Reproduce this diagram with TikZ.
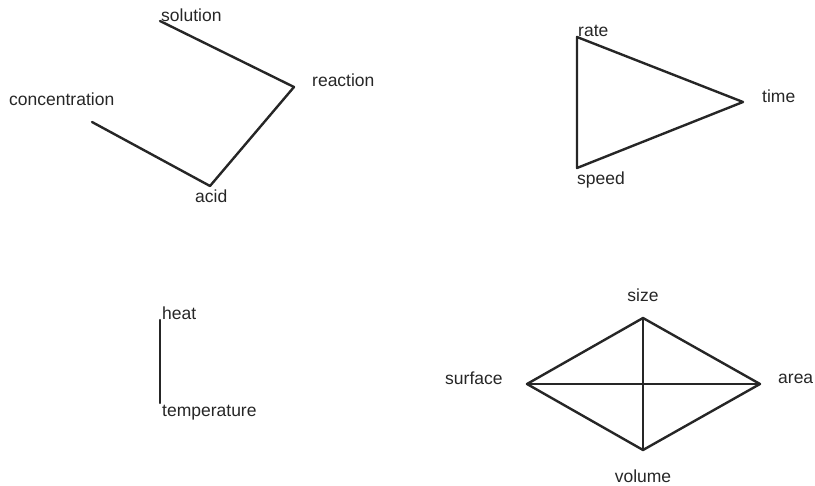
\documentclass[tikz,border=0pt]{standalone}
\usepackage{fontspec}
\setmainfont{Liberation Sans}
\begin{document}
\begin{tikzpicture}[x=1pt,y=-1pt,
  lbl/.style={inner sep=0pt,anchor=base west,font=\fontsize{17.5}{20}\selectfont,text=black!85},
  lblc/.style={inner sep=0pt,anchor=base,font=\fontsize{17.5}{20}\selectfont,text=black!85},
  edge/.style={line width=2.4pt,draw=black!85,line cap=round,line join=round}]
\useasboundingbox (0,0) rectangle (815,486);
% group 1
\coordinate (solution) at (160,21);
\coordinate (reaction) at (294,87);
\coordinate (acid) at (210,186);
\coordinate (concentration) at (92,122);
\node[lbl] (solutionL) at (161,22) {solution};
\node[lbl] (reactionL) at (312,87) {reaction};
\node[lbl] (acidL) at (195,203) {acid};
\node[lbl] (concentrationL) at (9,106) {concentration};
\draw[edge] (solution) -- (reaction) -- (acid) -- (concentration);
% group 2
\coordinate (rate) at (577,37);
\coordinate (time) at (743,102);
\coordinate (speed) at (577,168);
\node[lbl] (rateL) at (578,37) {rate};
\node[lbl] (timeL) at (762,103) {time};
\node[lbl] (speedL) at (577,185) {speed};
\draw[edge] (rate) -- (time) -- (speed) -- cycle;
% group 3
\coordinate (heat) at (160,320);
\coordinate (temperature) at (160,403);
\node[lbl] (heatL) at (162,320) {heat};
\node[lbl] (temperatureL) at (162,417) {temperature};
\draw[edge] (heat) -- (temperature);
% group 4
\coordinate (size) at (643,318);
\coordinate (surface) at (527,384);
\coordinate (area) at (760,384);
\coordinate (volume) at (643,450);
\node[lblc] (sizeL) at (643,302) {size};
\node[lbl] (surfaceL) at (445,385) {surface};
\node[lbl] (areaL) at (778,384) {area};
\node[lblc] (volumeL) at (643,483) {volume};
\draw[edge] (size) -- (area) -- (volume) -- (surface) -- cycle;
\draw[edge] (size) -- (volume);
\draw[edge] (surface) -- (area);
\end{tikzpicture}
\end{document}
